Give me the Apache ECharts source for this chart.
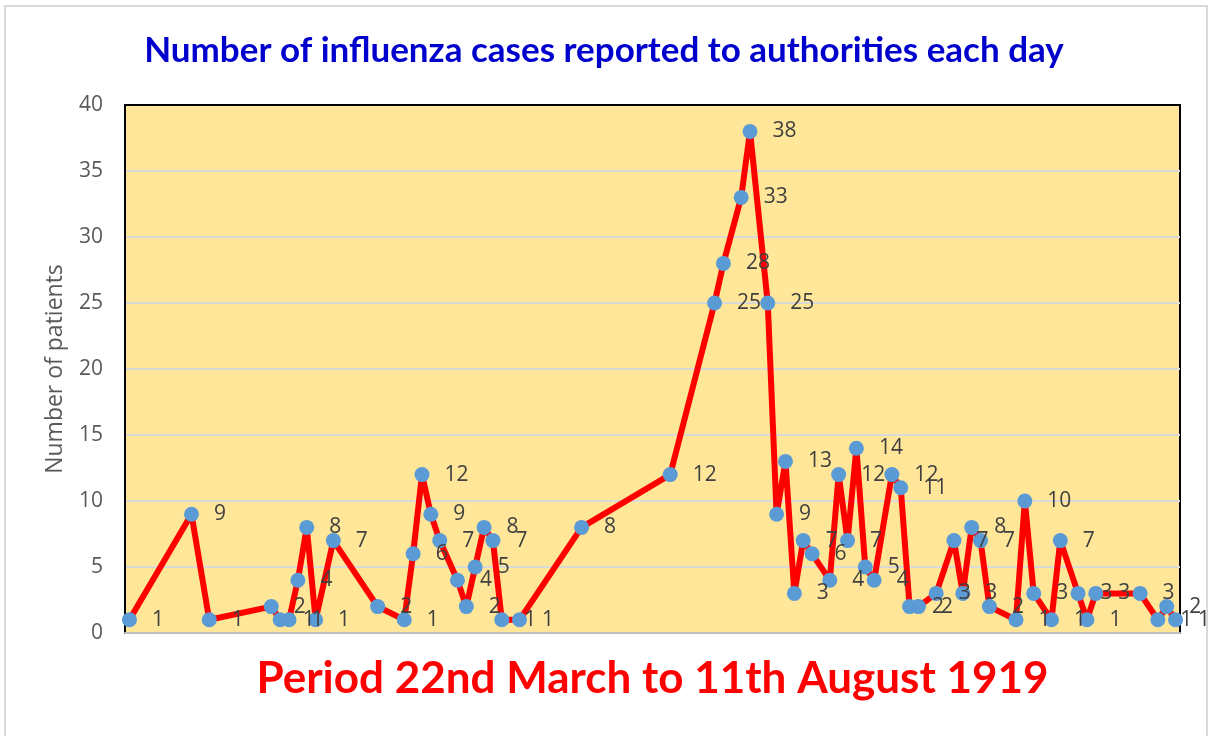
<!DOCTYPE html>
<html>
<head>
<meta charset="utf-8">
<script src="https://cdn.jsdelivr.net/npm/echarts@6/dist/echarts.min.js"></script>
<style>
html,body{margin:0;padding:0;background:#fff;}
#c{width:1208px;height:736px;}
</style>
</head>
<body>
<div id="c"></div>
<script>
// Reporting day index (0 = 22 March 1919) and cases reported that day
const days = [0,7,9,16,17,18,19,20,21,23,28,31,32,33,34,35,37,38,39,40,41,42,44,51,61,66,67,69,70,72,73,74,75,76,77,79,80,81,82,83,84,86,87,88,89,91,93,94,95,96,97,100,101,102,104,105,107,108,109,114,116,117,118];
const cases = [1,9,1,2,1,1,4,8,1,7,2,1,6,12,9,7,4,2,5,8,7,1,1,8,12,25,28,33,38,25,9,13,3,7,6,4,12,7,14,5,4,12,11,2,2,3,7,3,8,7,2,1,10,3,1,7,3,1,3,3,1,2,1];
const yTicks = [0,5,10,15,20,25,30,35,40];
const titleText = 'Number of influenza cases reported to authorities each day';
const xTitle = 'Period 22nd March to 11th August 1919';
const yTitle = 'Number of patients';

const points = days.map((d, i) => [d, cases[i]]);

const chart = echarts.init(document.getElementById('c'), null, {renderer: 'canvas'});
chart.setOption({
  backgroundColor: '#ffffff',
  animation: false,
  title: {
    text: titleText,
    left: 'center',
    top: 28,
    textStyle: {fontFamily: 'Lato', fontWeight: 'bold', fontSize: 35, color: '#0000CC'}
  },
  graphic: [{
    type: 'rect',
    shape: {x: 5, y: 6, width: 1202, height: 740},
    style: {fill: 'none', stroke: '#D9D9D9', lineWidth: 2},
    silent: true, z: -10
  }],
  grid: {
    left: 125, top: 105, right: 28, bottom: 103,
    show: true, backgroundColor: '#FFE699', borderColor: '#000000', borderWidth: 2
  },
  xAxis: {
    type: 'value',
    min: -0.5, max: 118.5,
    name: xTitle,
    nameLocation: 'middle',
    nameGap: 24,
    nameTextStyle: {fontFamily: 'Lato', fontWeight: 'bold', fontSize: 44, color: '#FF0000'},
    axisLine: {show: true, onZero: false, lineStyle: {color: '#BFBFBF', width: 2}},
    axisTick: {show: false},
    axisLabel: {show: false},
    splitLine: {show: false}
  },
  yAxis: {
    type: 'value',
    min: yTicks[0], max: yTicks[yTicks.length - 1], interval: 5,
    name: yTitle,
    nameLocation: 'middle',
    nameRotate: 90,
    nameGap: 58,
    nameTextStyle: {fontFamily: 'Open Sans', fontSize: 23, color: '#595959'},
    axisLine: {show: true, onZero: false, lineStyle: {color: '#000000', width: 2}},
    axisTick: {show: false},
    axisLabel: {fontFamily: 'Open Sans', fontSize: 21, color: '#595959', margin: 22},
    splitLine: {show: true, showMaxLine: false, showMinLine: false, lineStyle: {color: '#D9D9D9', width: 2}}
  },
  series: [{
    type: 'line',
    data: points,
    symbol: 'circle',
    symbolSize: 15,
    lineStyle: {color: '#FF0000', width: 6},
    itemStyle: {color: '#5B9BD5', borderWidth: 0},
    label: {
      show: true, position: 'right', distance: 15,
      fontFamily: 'Open Sans', fontSize: 21, color: '#404040',
      formatter: p => p.value[1]
    },
    z: 3
  }]
});
</script>
</body>
</html>
